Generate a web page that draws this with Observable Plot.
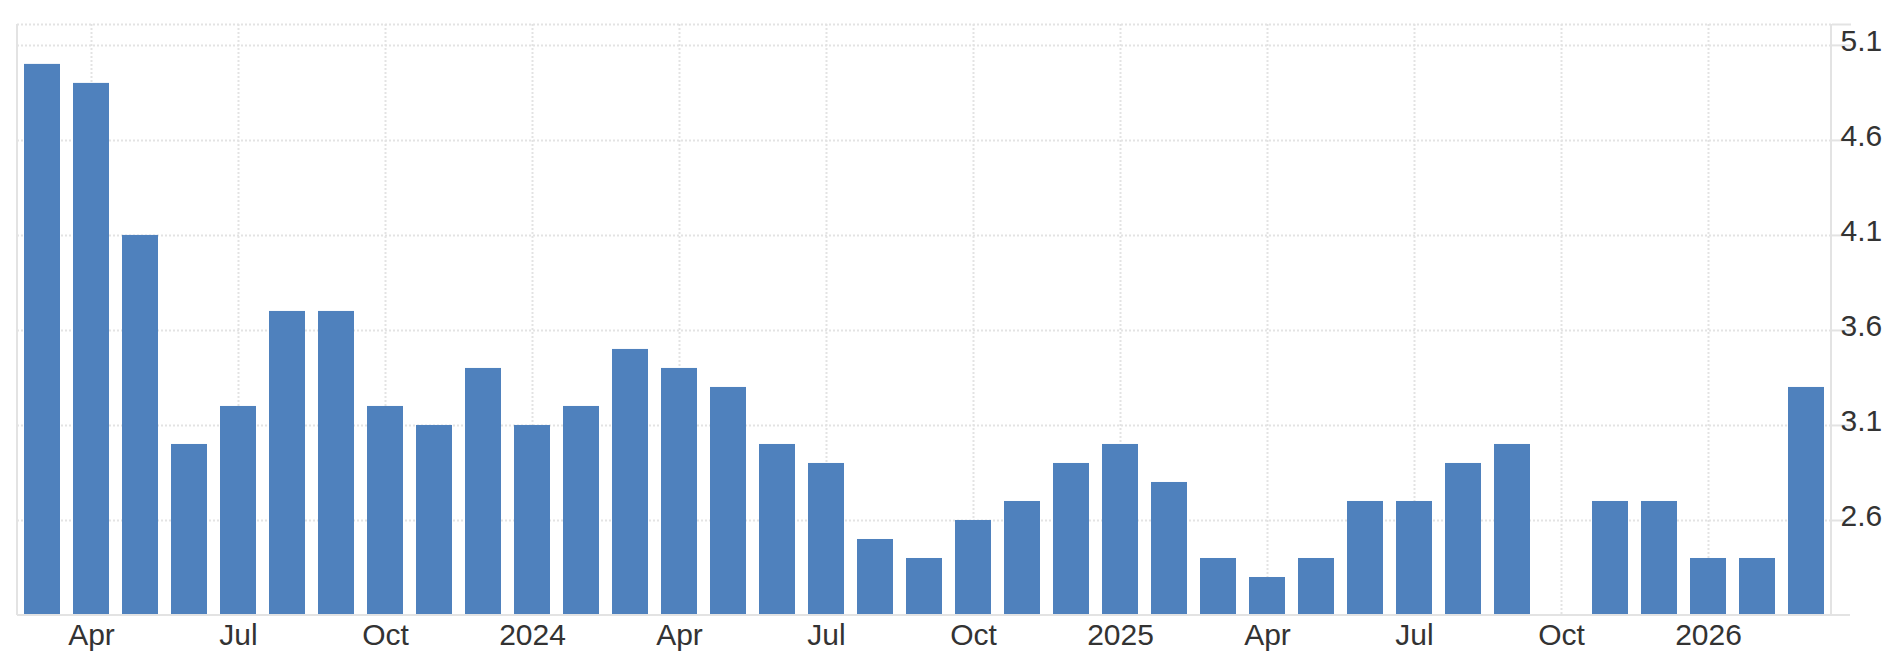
<!DOCTYPE html>
<html>
<head>
<meta charset="utf-8">
<script src="https://cdn.jsdelivr.net/npm/d3@7"></script>
<script src="https://cdn.jsdelivr.net/npm/@observablehq/plot@0.6"></script>
<style>
  html, body { margin: 0; padding: 0; background: #fff; }
  #chart svg { display: block; }
</style>
</head>
<body>
<div id="chart"></div>
<script>
// ---- data ----
const months = [
  "2023-03","2023-04","2023-05","2023-06","2023-07","2023-08","2023-09","2023-10","2023-11","2023-12",
  "2024-01","2024-02","2024-03","2024-04","2024-05","2024-06","2024-07","2024-08","2024-09","2024-10","2024-11","2024-12",
  "2025-01","2025-02","2025-03","2025-04","2025-05","2025-06","2025-07","2025-08","2025-09","2025-10","2025-11","2025-12",
  "2026-01","2026-02","2026-03"
];
const values = [
  5.0, 4.9, 4.1, 3.0, 3.2, 3.7, 3.7, 3.2, 3.1, 3.4,
  3.1, 3.2, 3.5, 3.4, 3.3, 3.0, 2.9, 2.5, 2.4, 2.6, 2.7, 2.9,
  3.0, 2.8, 2.4, 2.3, 2.4, 2.7, 2.7, 2.9, 3.0, null, 2.7, 2.7,
  2.4, 2.4, 3.3
];
const xTicks = ["2023-04","2023-07","2023-10","2024-01","2024-04","2024-07","2024-10","2025-01","2025-04","2025-07","2025-10","2026-01"];
const xTickLabels = ["Apr","Jul","Oct","2024","Apr","Jul","Oct","2025","Apr","Jul","Oct","2026"];
const yTicks = [2.6, 3.1, 3.6, 4.1, 4.6, 5.1];
const yDomain = [2.1, 5.21];

// ---- chart ----
const data = months.map((m, i) => ({month: m, value: values[i]})).filter(d => d.value != null);
const labelMap = new Map(xTicks.map((t, i) => [t, xTickLabels[i]]));
const font = "'Liberation Sans', Arial, Helvetica, sans-serif";
const gridColor = "#e3e3e3";
const axisColor = "#e3e3e3";
const textColor = "#333333";
const W = 1892, H = 658, mT = 24, mB = 43, mL = 17, mR = 61;

const frameLines = (index, scales, values, dims) => {
  const d = dims || {width: W, height: H, marginLeft: mL, marginRight: mR, marginTop: mT, marginBottom: mB};
  const L = d.marginLeft, R = d.width - d.marginRight, T = d.marginTop, B = d.height - d.marginBottom;
  const g = d3.create("svg:g").attr("stroke", axisColor).attr("stroke-width", 2).attr("fill", "none");
  g.append("line").attr("x1", L).attr("x2", L).attr("y1", T).attr("y2", B);
  g.append("line").attr("x1", R).attr("x2", R).attr("y1", T).attr("y2", B);
  g.append("line").attr("x1", L).attr("x2", R + 19).attr("y1", B).attr("y2", B);
  return g.node();
};

const plot = Plot.plot({
  width: W,
  height: H,
  marginTop: mT,
  marginBottom: mB,
  marginLeft: mL,
  marginRight: mR,
  style: {fontFamily: font, fontSize: "30px", color: textColor, background: "#fff", overflow: "visible"},
  x: {type: "band", domain: months, paddingInner: 0.27, paddingOuter: 0.1, axis: null},
  y: {domain: yDomain, axis: null},
  marks: [
    Plot.gridX(xTicks, {stroke: gridColor, strokeOpacity: 1, strokeWidth: 2, strokeDasharray: "2,2"}),
    Plot.gridY([...yTicks, yDomain[1]], {stroke: gridColor, strokeOpacity: 1, strokeWidth: 2, strokeDasharray: "2,2"}),
    Plot.barY(data, {x: "month", y1: yDomain[0], y2: "value", fill: "#4f81bd"}),
    frameLines,
    Plot.axisY([...yTicks, yDomain[1]], {anchor: "right", tickSize: 19, tickFormat: () => "", stroke: axisColor, strokeWidth: 2, strokeOpacity: 1, label: null}),
    Plot.axisY(yTicks, {anchor: "right", tickSize: 0, tickPadding: 9, dy: -4, tickFormat: d => d.toFixed(1), fill: textColor, fontSize: 30, label: null}),
    Plot.axisX(xTicks, {anchor: "bottom", tickSize: 0, tickPadding: 8, tickFormat: d => labelMap.get(d), fill: textColor, fontSize: 30, label: null})
  ]
});
document.getElementById("chart").appendChild(plot);
</script>
</body>
</html>
